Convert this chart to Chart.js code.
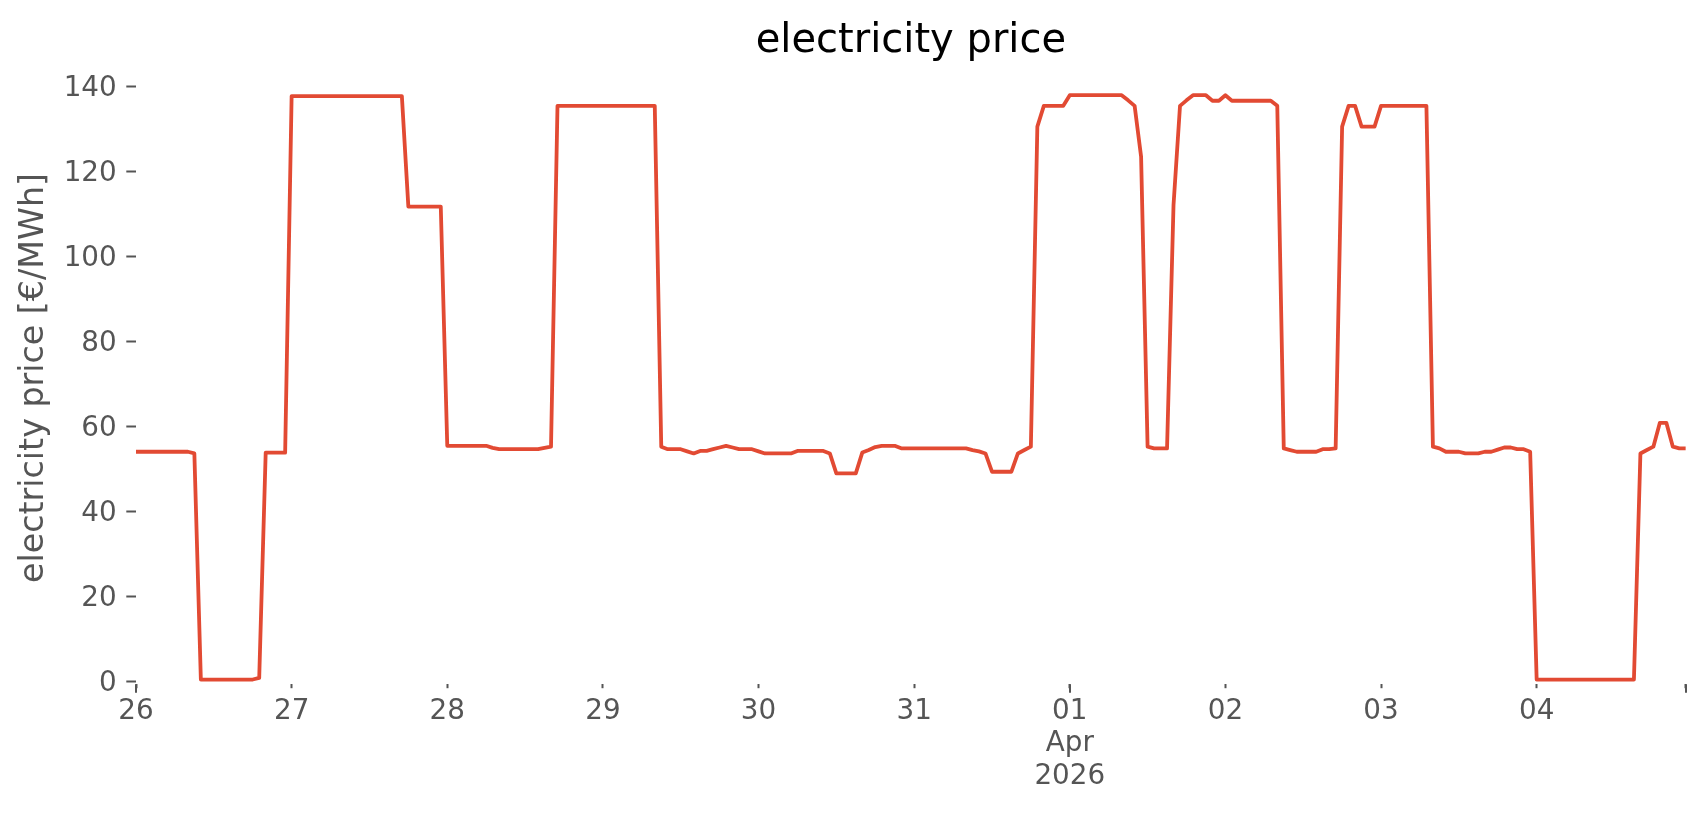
<!DOCTYPE html>
<html>
<head>
<meta charset="utf-8">
<script src="https://cdn.jsdelivr.net/npm/chart.js@4.4.0/dist/chart.umd.min.js"></script>
<style>
  html, body { margin: 0; padding: 0; background: #ffffff; }
  canvas { display: block; }
</style>
</head>
<body>
<canvas id="c" width="1706" height="815"></canvas>
<script>
// ---- data (hourly, starting 2026-03-26 00:00) ----
const chartTitle = 'electricity price';
const yAxisLabel = 'electricity price [€/MWh]';
const startTime = '2026-03-26T00:00';

const prices = [
  // Mar 26
  54.1,54.1,54.1,54.1,54.1,54.1,54.1,54.1,54.1,53.7,0.5,0.5,0.5,0.5,0.5,0.5,0.5,0.5,0.5,0.9,53.9,53.9,53.9,53.9,
  // Mar 27
  137.8,137.8,137.8,137.8,137.8,137.8,137.8,137.8,137.8,137.8,137.8,137.8,137.8,137.8,137.8,137.8,137.8,137.8,111.8,111.8,111.8,111.8,111.8,111.8,
  // Mar 28
  55.5,55.5,55.5,55.5,55.5,55.5,55.5,55.0,54.7,54.7,54.7,54.7,54.7,54.7,54.7,55.0,55.3,135.5,135.5,135.5,135.5,135.5,135.5,135.5,
  // Mar 29
  135.5,135.5,135.5,135.5,135.5,135.5,135.5,135.5,135.5,55.3,54.7,54.7,54.7,54.2,53.7,54.3,54.3,54.7,55.1,55.5,55.1,54.7,54.7,54.7,
  // Mar 30
  54.2,53.7,53.7,53.7,53.7,53.7,54.3,54.3,54.3,54.3,54.3,53.7,49.0,49.0,49.0,49.0,53.9,54.5,55.2,55.5,55.5,55.5,54.9,54.9,
  // Mar 31
  54.9,54.9,54.9,54.9,54.9,54.9,54.9,54.9,54.9,54.5,54.2,53.7,49.4,49.4,49.4,49.4,53.7,54.5,55.3,130.6,135.5,135.5,135.5,135.5,
  // Apr 01
  138.0,138.0,138.0,138.0,138.0,138.0,138.0,138.0,138.0,136.8,135.5,123.5,55.3,54.9,54.9,54.9,112.2,135.5,136.8,138.0,138.0,138.0,136.7,136.7,
  // Apr 02
  138.0,136.7,136.7,136.7,136.7,136.7,136.7,136.7,135.5,54.9,54.5,54.1,54.1,54.1,54.1,54.7,54.7,54.9,130.6,135.5,135.5,130.6,130.6,130.6,
  // Apr 03
  135.5,135.5,135.5,135.5,135.5,135.5,135.5,135.5,55.3,54.9,54.1,54.1,54.1,53.7,53.7,53.7,54.1,54.1,54.6,55.1,55.1,54.7,54.7,54.1,
  // Apr 04
  0.5,0.5,0.5,0.5,0.5,0.5,0.5,0.5,0.5,0.5,0.5,0.5,0.5,0.5,0.5,0.5,53.7,54.5,55.3,60.9,60.9,55.3,54.9,54.9
];

// hour offsets of the day ticks and their labels
const dayTickHours  = [0, 24, 48, 72, 96, 120, 144, 168, 192, 216];
const dayTickLabels = ['26', '27', '28', '29', '30', '31', ['01', 'Apr', '2026'], '02', '03', '04'];
const endTickHour = 239;
const majorTickHours = [0, 144, 239];
const yTicks = [0, 20, 40, 60, 80, 100, 120, 140];

// ---- chart ----
const FONT = '"DejaVu Sans", "Liberation Sans", sans-serif';
const GREY = '#555555';

const decor = {
  id: 'decor',
  afterDraw(chart) {
    const { ctx, chartArea, scales } = chart;
    ctx.save();
    // longer marks for the major (month / edge) ticks
    ctx.strokeStyle = GREY;
    ctx.lineWidth = 2;
    majorTickHours.forEach(h => {
      const x = Math.round(scales.x.getPixelForValue(h));
      ctx.beginPath();
      ctx.moveTo(x, chartArea.bottom);
      ctx.lineTo(x, chartArea.bottom + 8.5);
      ctx.stroke();
    });
    // chart title, centred over the plot area
    ctx.fillStyle = '#000000';
    ctx.font = '40px ' + FONT;
    ctx.textAlign = 'center';
    ctx.textBaseline = 'alphabetic';
    ctx.fillText(chartTitle, (chartArea.left + chartArea.right) / 2, 51.5);
    // y axis label
    ctx.fillStyle = GREY;
    ctx.font = '33.3px ' + FONT;
    ctx.textBaseline = 'middle';
    ctx.translate(34, 378);
    ctx.rotate(-Math.PI / 2);
    ctx.fillText(yAxisLabel, 0, 0);
    ctx.restore();
  }
};

new Chart(document.getElementById('c'), {
  type: 'line',
  data: {
    datasets: [{
      data: prices.map((v, i) => ({ x: i, y: v })),
      borderColor: '#E24A33',
      borderWidth: 3.8,
      borderJoinStyle: 'round',
      pointRadius: 0,
      tension: 0,
      fill: false
    }]
  },
  options: {
    responsive: false,
    devicePixelRatio: 1,
    animation: false,
    events: [],
    layout: { padding: { top: 81.2, right: 20.2, bottom: 0, left: 0 } },
    plugins: {
      legend: { display: false },
      tooltip: { enabled: false },
      title: { display: false }
    },
    scales: {
      x: {
        type: 'linear',
        min: 0,
        max: endTickHour,
        border: { display: false },
        grid: {
          drawOnChartArea: false,
          drawTicks: true,
          tickLength: 4,
          tickColor: GREY,
          tickWidth: 2
        },
        ticks: {
          autoSkip: false,
          maxRotation: 0,
          minRotation: 0,
          padding: 7,
          color: GREY,
          font: { family: FONT, size: 27.8, lineHeight: 1.17 },
          callback: (value) => {
            const i = dayTickHours.indexOf(value);
            return i >= 0 ? dayTickLabels[i] : '';
          }
        },
        afterBuildTicks: (scale) => {
          scale.ticks = [...dayTickHours, endTickHour].map(v => ({ value: v }));
        },
        afterFit: (scale) => { scale.height = 815 - 684.2; }
      },
      y: {
        type: 'linear',
        min: -0.6,
        max: 141.3,
        border: { display: false },
        grid: {
          drawOnChartArea: false,
          drawTicks: true,
          tickLength: 9.7,
          tickColor: GREY,
          tickWidth: 2
        },
        ticks: {
          padding: 9.6,
          labelOffset: 2,
          color: GREY,
          font: { family: FONT, size: 27.8 }
        },
        afterBuildTicks: (scale) => {
          scale.ticks = yTicks.map(v => ({ value: v }));
        },
        title: { display: false },
        afterFit: (scale) => { scale.width = 136; }
      }
    }
  },
  plugins: [decor]
});
</script>
</body>
</html>
